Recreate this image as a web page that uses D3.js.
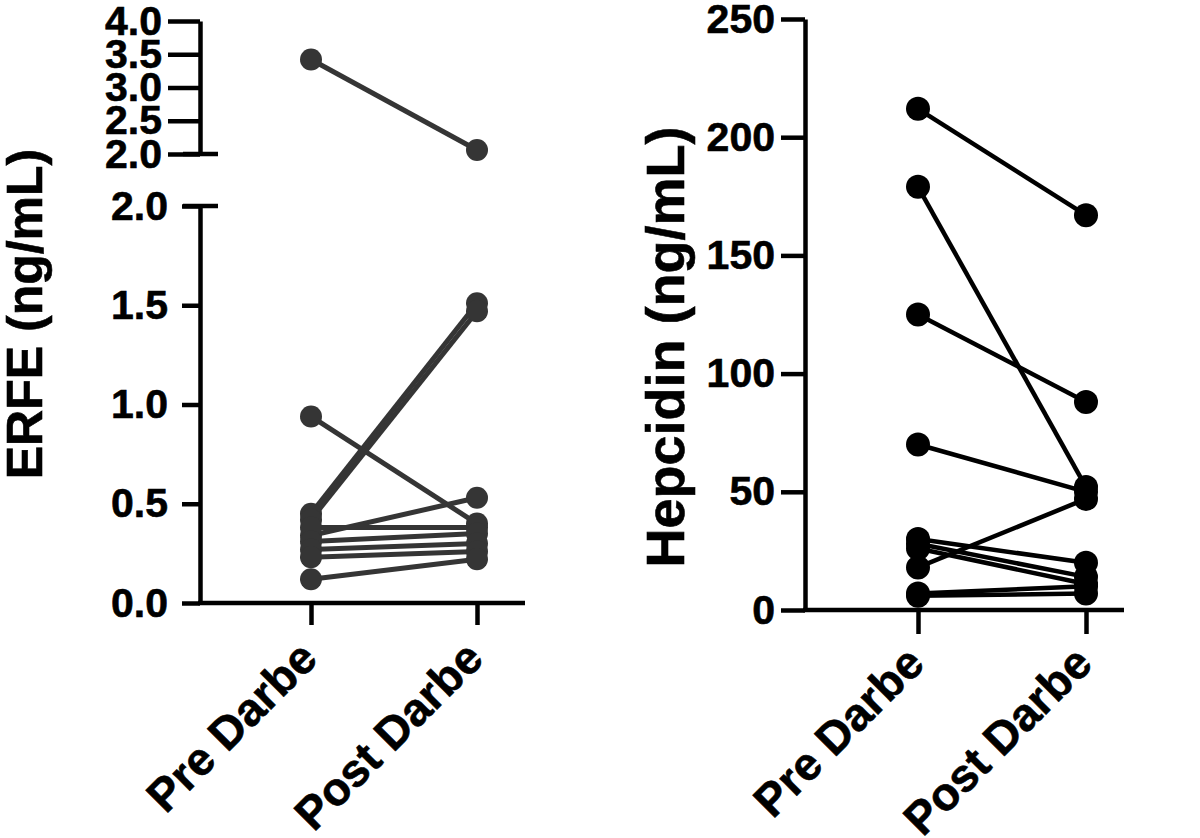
<!DOCTYPE html>
<html>
<head>
<meta charset="utf-8">
<script src="https://cdn.jsdelivr.net/npm/d3@7"></script>
<style>
  body { margin: 0; background: #fff; }
  text { font-family: "Liberation Sans", Arial, sans-serif; font-weight: bold; stroke: #000; stroke-width: 0.6px; }
</style>
</head>
<body>
<div class="canva"></div>
<script>
// categories on x
const categories = ["Pre Darbe", "Post Darbe"];

// ERFE (ng/mL), one value per subject
const erfePre  = [3.42, 0.94, 0.45, 0.42, 0.34, 0.38, 0.31, 0.27, 0.23, 0.12];
const erfePost = [2.06, 0.40, 1.51, 1.47, 0.53, 0.38, 0.35, 0.30, 0.26, 0.22];

// Hepcidin (ng/mL)
const hepPre  = [212, 179, 125, 70, 18, 30, 28, 26, 7, 6];
const hepPost = [167, 52, 88, 50, 47, 20, 14, 11, 10, 7];

// tick labels
const erfeTicksTop = [2.0, 2.5, 3.0, 3.5, 4.0];
const erfeTicksBottom = [0.0, 0.5, 1.0, 1.5, 2.0];
const hepTicks = [0, 50, 100, 150, 200, 250];

const svg = d3.select('.canva').append('svg')
    .attr('width', 1200)
    .attr('height', 838);

svg.append('rect').attr('width', 1200).attr('height', 838).attr('fill', '#fff');

const AXW = 4.5;

// ---------- left panel: ERFE with broken axis ----------
const left = svg.append('g');
const xL = d3.scalePoint().domain(categories).range([311, 477]);
const yTop = d3.scaleLinear().domain([2, 4]).range([154, 21]);
const yBot = d3.scaleLinear().domain([0, 2]).range([603, 206]);
const yErfe = v => v > 2 ? yTop(v) : yBot(v);
const greyL = '#353535';

function styleAxis(g) {
    g.selectAll('.domain').attr('stroke', '#000').attr('stroke-width', AXW);
    g.selectAll('.tick line').attr('stroke', '#000').attr('stroke-width', AXW);
    g.selectAll('.tick text').attr('fill', '#000');
}

left.append('g')
    .attr('transform', 'translate(200,0)')
    .call(d3.axisLeft(yTop).tickValues(erfeTicksTop).tickFormat(d3.format('.1f'))
        .tickSize(32).tickSizeOuter(0).tickPadding(6))
    .call(styleAxis)
    .call(g => g.selectAll('text').style('font-size', '41px'));

left.append('g')
    .attr('transform', 'translate(200,0)')
    .call(d3.axisLeft(yBot).tickValues(erfeTicksBottom).tickFormat(d3.format('.1f'))
        .tickSize(18).tickSizeOuter(0).tickPadding(14))
    .call(styleAxis)
    .call(g => g.selectAll('text').style('font-size', '41px'));

// break marks at 2.0 reach across the axis
[yTop(2), yBot(2)].forEach(y => {
    left.append('line')
        .attr('x1', 183).attr('x2', 218)
        .attr('y1', y).attr('y2', y)
        .attr('stroke', '#000').attr('stroke-width', AXW);
});

const xAxisL = left.append('g')
    .attr('transform', 'translate(0,603)')
    .call(d3.axisBottom(xL).tickSize(22).tickSizeOuter(0))
    .call(styleAxis);
xAxisL.select('.domain').remove();
xAxisL.append('line').attr('x1', 198).attr('x2', 525)
    .attr('stroke', '#000').attr('stroke-width', AXW);
xAxisL.selectAll('.tick text')
    .attr('y', 0).attr('dy', 0)
    .attr('transform', 'translate(8,58) rotate(-45)')
    .style('text-anchor', 'end')
    .style('font-size', '46px');

left.append('text')
    .attr('transform', 'translate(42,314) rotate(-90)')
    .attr('text-anchor', 'middle')
    .style('font-size', '50px')
    .text('ERFE (ng/mL)');

const erfePairs = erfePre.map((d, i) => [d, erfePost[i]]);
left.selectAll('line.pair').data(erfePairs).enter().append('line')
    .attr('class', 'pair')
    .attr('x1', xL(categories[0])).attr('x2', xL(categories[1]))
    .attr('y1', d => yErfe(d[0])).attr('y2', d => yErfe(d[1]))
    .attr('stroke', greyL).attr('stroke-width', 5);

left.selectAll('circle.pre').data(erfePre).enter().append('circle')
    .attr('cx', xL(categories[0])).attr('cy', d => yErfe(d)).attr('r', 11).attr('fill', greyL);
left.selectAll('circle.post').data(erfePost).enter().append('circle')
    .attr('cx', xL(categories[1])).attr('cy', d => yErfe(d)).attr('r', 11).attr('fill', greyL);

// ---------- right panel: Hepcidin ----------
const right = svg.append('g');
const xR = d3.scalePoint().domain(categories).range([918, 1086]);
const yR = d3.scaleLinear().domain([0, 250]).range([610, 19]);

right.append('g')
    .attr('transform', 'translate(805,0)')
    .call(d3.axisLeft(yR).tickValues(hepTicks).tickSize(24).tickSizeOuter(0).tickPadding(6))
    .call(styleAxis)
    .call(g => g.selectAll('text').style('font-size', '41px'));

const xAxisR = right.append('g')
    .attr('transform', 'translate(0,610)')
    .call(d3.axisBottom(xR).tickSize(24).tickSizeOuter(0))
    .call(styleAxis);
xAxisR.select('.domain').remove();
xAxisR.append('line').attr('x1', 803).attr('x2', 1124)
    .attr('stroke', '#000').attr('stroke-width', AXW);
xAxisR.selectAll('.tick text')
    .attr('y', 0).attr('dy', 0)
    .attr('transform', 'translate(8,56) rotate(-45)')
    .style('text-anchor', 'end')
    .style('font-size', '46px');

right.append('text')
    .attr('transform', 'translate(684,347) rotate(-90)')
    .attr('text-anchor', 'middle')
    .style('font-size', '54px')
    .text('Hepcidin (ng/mL)');

const hepPairs = hepPre.map((d, i) => [d, hepPost[i]]);
right.selectAll('line.pair').data(hepPairs).enter().append('line')
    .attr('class', 'pair')
    .attr('x1', xR(categories[0])).attr('x2', xR(categories[1]))
    .attr('y1', d => yR(d[0])).attr('y2', d => yR(d[1]))
    .attr('stroke', '#000').attr('stroke-width', 4.5);

right.selectAll('circle.pre').data(hepPre).enter().append('circle')
    .attr('cx', xR(categories[0])).attr('cy', d => yR(d)).attr('r', 12).attr('fill', '#000');
right.selectAll('circle.post').data(hepPost).enter().append('circle')
    .attr('cx', xR(categories[1])).attr('cy', d => yR(d)).attr('r', 12).attr('fill', '#000');
</script>
</body>
</html>
